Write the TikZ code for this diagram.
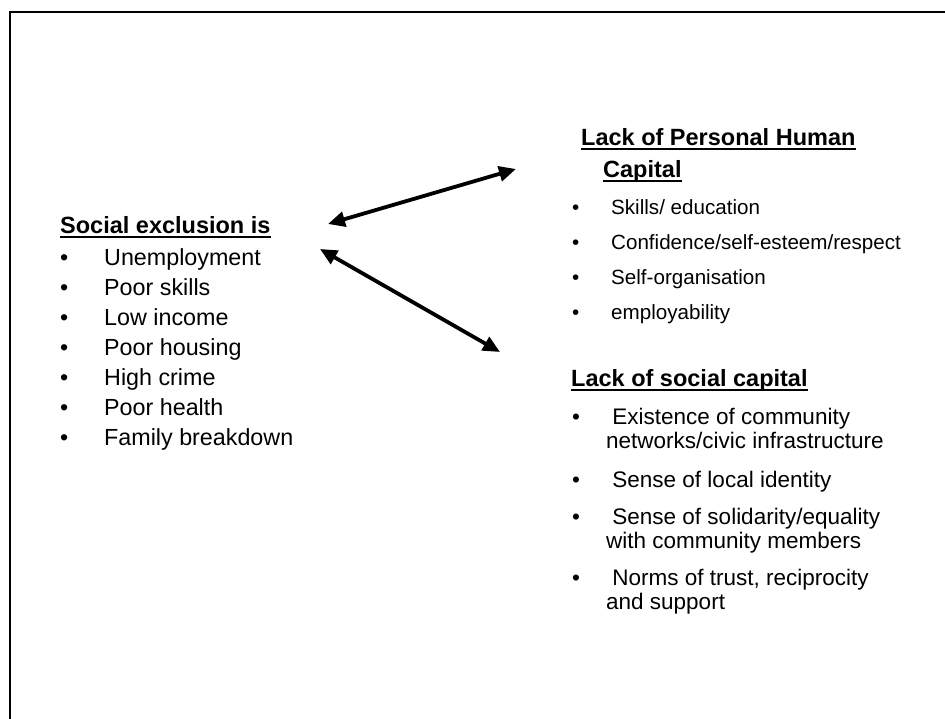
\documentclass[tikz,border=0pt]{standalone}
\usepackage{fontspec}
\setmainfont{Liberation Sans}
\usetikzlibrary{arrows.meta}
\newcommand{\bul}[1]{\makebox[#1][l]{\textbullet}}

\begin{document}
\begin{tikzpicture}[x=1pt,y=-1pt,>={Triangle[length=17pt,width=15pt]}]
        \tikzstyle{head}=[inner sep=0,anchor=base west,font=\fontsize{23.5}{28}\selectfont\bfseries]
        \tikzstyle{excitem}=[inner sep=0,anchor=base west,font=\fontsize{23.3}{28}\selectfont]
        \tikzstyle{humitem}=[inner sep=0,anchor=base west,font=\fontsize{20.6}{24}\selectfont]
        \tikzstyle{socitem}=[inner sep=0,anchor=base west,font=\fontsize{22.5}{26}\selectfont]
        \tikzstyle{uline}=[line width=2pt]
        \tikzstyle{link}=[<->,line width=3.8pt]

        \useasboundingbox (0,0) rectangle (945,718);
        \clip (0,0) rectangle (945,718);
        % page frame, only its left and top edges show
        \draw[line width=2.6pt] (10,740) -- (10,12) -- (960,12);

        % social exclusion
        \node[head] (excl) at (60,233) {Social exclusion is};
        \node[excitem] (e1) at (60,265) {\bul{44pt}Unemployment};
        \node[excitem] (e2) at (60,295) {\bul{44pt}Poor skills};
        \node[excitem] (e3) at (60,325) {\bul{44pt}Low income};
        \node[excitem] (e4) at (60,355) {\bul{44pt}Poor housing};
        \node[excitem] (e5) at (60,385) {\bul{44pt}High crime};
        \node[excitem] (e6) at (60,415) {\bul{44pt}Poor health};
        \node[excitem] (e7) at (60,445) {\bul{44pt}Family breakdown};

        % personal human capital
        \node[head] (hum1) at (581,145) {Lack of Personal Human};
        \node[head] (hum2) at (603,177) {Capital};
        \node[humitem] (h1) at (572,214) {\bul{39pt}Skills/ education};
        \node[humitem] (h2) at (572,249) {\bul{39pt}Confidence/self-esteem/respect};
        \node[humitem] (h3) at (572,284) {\bul{39pt}Self-organisation};
        \node[humitem] (h4) at (572,319) {\bul{39pt}employability};

        % social capital
        \node[head] (soc) at (571,386) {Lack of social capital};
        \node[socitem] (s1) at (572,424) {\bul{34pt}\ Existence of community};
        \node[socitem] (s1b) at (606,448) {networks/civic infrastructure};
        \node[socitem] (s2) at (572,487) {\bul{34pt}\ Sense of local identity};
        \node[socitem] (s3) at (572,524) {\bul{34pt}\ Sense of solidarity/equality};
        \node[socitem] (s3b) at (606,548) {with community members};
        \node[socitem] (s4) at (572,585) {\bul{34pt}\ Norms of trust, reciprocity};
        \node[socitem] (s4b) at (606,609) {and support};

        \foreach \n in {excl,hum1,hum2,soc}
            \draw[uline] ([yshift=-4pt]\n.base west) -- ([yshift=-4pt]\n.base east);

        % arrow ends
        \coordinate (exclTop) at (328,224);
        \coordinate (humTip) at (516,169);
        \coordinate (exclLow) at (320,249);
        \coordinate (socTip) at (500,352);

        \draw[link] (exclTop) -- (humTip);
        \draw[link] (exclLow) -- (socTip);
    \end{tikzpicture}
\end{document}
